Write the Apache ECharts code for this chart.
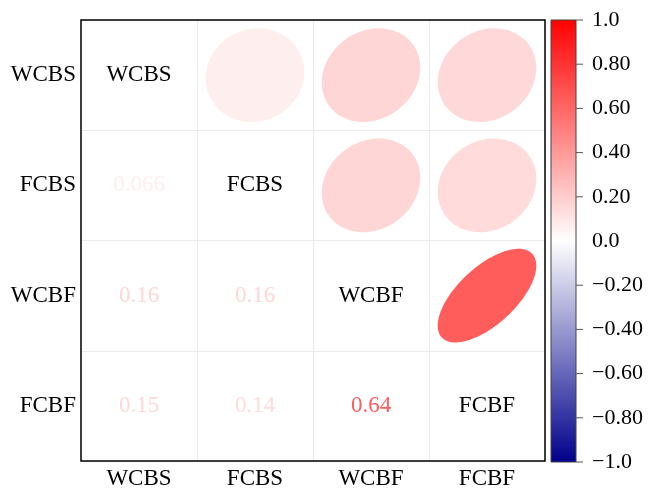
<!DOCTYPE html>
<html>
<head>
<meta charset="utf-8">
<script src="https://cdn.jsdelivr.net/npm/echarts@6/dist/echarts.min.js"></script>
<style>
  html, body { margin: 0; padding: 0; background: #ffffff; }
  #chart { width: 649px; height: 490px; }
</style>
</head>
<body>
<div id="chart"></div>
<script>
// Variables of the correlation matrix (row/column order)
const variables = ['WCBS', 'FCBS', 'WCBF', 'FCBF'];

// Correlation matrix rows
const rowWCBS = [1, 0.066, 0.16, 0.15];
const rowFCBS = [0.066, 1, 0.16, 0.14];
const rowWCBF = [0.16, 0.16, 1, 0.64];
const rowFCBF = [0.15, 0.14, 0.64, 1];
const corrMatrix = [rowWCBS, rowFCBS, rowWCBF, rowFCBF];

// Colour bar scale
const barMin = -1;
const barMax = 1;
const barStep = 0.2;
const barTickValues = [1, 0.8, 0.6, 0.4, 0.2, -0.2, -0.4, -0.6, -0.8, -1];
const rampColors = ['#00008B', '#FFFFFF', '#FF0000'];

const serif = 'Liberation Serif';

function hexToRgb(h) {
  return [parseInt(h.slice(1, 3), 16), parseInt(h.slice(3, 5), 16), parseInt(h.slice(5, 7), 16)];
}
// Diverging blue-white-red ramp on [-1, 1]
function rampColor(v) {
  const lo = v < 0 ? hexToRgb(rampColors[0]) : hexToRgb(rampColors[1]);
  const hi = v < 0 ? hexToRgb(rampColors[1]) : hexToRgb(rampColors[2]);
  const t = v < 0 ? v + 1 : v;
  const c = lo.map((a, i) => Math.round(a + (hi[i] - a) * t));
  return 'rgb(' + c.join(',') + ')';
}

// Build per-cell data: upper triangle ellipses, diagonal names, lower triangle values
const ellipseData = [];
const textData = [];
for (let i = 0; i < variables.length; i++) {
  for (let j = 0; j < variables.length; j++) {
    const r = corrMatrix[i][j];
    if (j > i) ellipseData.push([j, i, r]);
    else if (j === i) textData.push({ value: [j, i], name: variables[i], color: '#000000' });
    else textData.push({ value: [j, i], name: String(r), color: rampColor(r) });
  }
}

function barLabel(v) {
  const a = Math.abs(v);
  const s = (a < 1e-9) ? '0.0' : (Math.abs(a - 1) < 1e-9 ? '1.0' : a.toFixed(2));
  return (v < -1e-9 ? '\u2212' : '') + s;
}

const chart = echarts.init(document.getElementById('chart'), null, { renderer: 'canvas' });

chart.setOption({
  backgroundColor: '#ffffff',
  animation: false,
  grid: [
    { left: 81, top: 20, width: 464, height: 442, show: false },
    { left: 551, top: 20, width: 25, height: 442, show: false }
  ],
  xAxis: [
    {
      type: 'category', gridIndex: 0, data: variables, position: 'bottom',
      axisLine: { show: false }, axisTick: { show: false },
      axisLabel: { fontFamily: serif, fontSize: 23, color: '#000000', margin: 6 },
      splitLine: { show: true, lineStyle: { color: '#EBEBEB', width: 1 } }
    },
    { type: 'value', gridIndex: 1, min: 0, max: 1, show: false }
  ],
  yAxis: [
    {
      type: 'category', gridIndex: 0, data: variables, inverse: true,
      axisLine: { show: false }, axisTick: { show: false },
      axisLabel: { fontFamily: serif, fontSize: 23, color: '#000000', margin: 5 },
      splitLine: { show: true, lineStyle: { color: '#EBEBEB', width: 1 } }
    },
    {
      type: 'value', gridIndex: 1, min: barMin, max: barMax, interval: barStep, position: 'right',
      axisLine: { show: false }, axisTick: { show: false }, splitLine: { show: false },
      axisLabel: { fontFamily: serif, fontSize: 22, color: '#000000', margin: 16, formatter: barLabel }
    }
  ],
  series: [
    {
      // correlation ellipses (upper triangle)
      type: 'custom', xAxisIndex: 0, yAxisIndex: 0,
      data: ellipseData,
      encode: { x: 0, y: 1 },
      renderItem: function (params, api) {
        const c = api.coord([api.value(0), api.value(1)]);
        const size = api.size([1, 1]);
        const r = api.value(2);
        const half = Math.acos(r) / 2;
        const pts = [];
        const n = 99;
        for (let k = 0; k < n; k++) {
          const t = 2 * Math.PI * k / (n - 1);
          const ex = 0.85 * Math.cos(t + half) / 2;
          const ey = 0.85 * Math.cos(t - half) / 2;
          pts.push([c[0] + ex * size[0], c[1] - ey * size[1]]);
        }
        return { type: 'polygon', shape: { points: pts }, style: { fill: rampColor(r) } };
      }
    },
    {
      // diagonal names and lower-triangle coefficients
      type: 'custom', xAxisIndex: 0, yAxisIndex: 0,
      data: textData,
      encode: { x: 0, y: 1 },
      renderItem: function (params, api) {
        const c = api.coord([api.value(0), api.value(1)]);
        const item = textData[params.dataIndex];
        return {
          type: 'text',
          style: {
            x: c[0], y: c[1], text: item.name, fill: item.color,
            font: '23px "' + serif + '"', textAlign: 'center', textVerticalAlign: 'middle'
          }
        };
      }
    },
    {
      // frame around the matrix, drawn above the grid lines
      type: 'custom', xAxisIndex: 0, yAxisIndex: 0, z: 10,
      data: [[0, 0]],
      encode: { x: 0, y: 1 },
      renderItem: function (params) {
        const cs = params.coordSys;
        return {
          type: 'rect',
          shape: { x: cs.x, y: cs.y, width: cs.width, height: cs.height },
          style: { fill: 'none', stroke: '#000000', lineWidth: 1.5 }
        };
      }
    },
    {
      // colour bar gradient
      type: 'custom', xAxisIndex: 1, yAxisIndex: 1,
      data: [[0, barMin, 1, barMax]],
      encode: { x: [0, 2], y: [1, 3] },
      renderItem: function (params, api) {
        const p0 = api.coord([api.value(0), api.value(3)]);
        const p1 = api.coord([api.value(2), api.value(1)]);
        return {
          type: 'rect',
          shape: { x: p0[0], y: p0[1], width: p1[0] - p0[0], height: p1[1] - p0[1] },
          style: {
            stroke: '#444444', lineWidth: 1,
            fill: new echarts.graphic.LinearGradient(0, 0, 0, 1, [
              { offset: 0, color: rampColors[2] },
              { offset: 0.5, color: rampColors[1] },
              { offset: 1, color: rampColors[0] }
            ])
          }
        };
      }
    },
    {
      // colour bar tick marks
      type: 'custom', xAxisIndex: 1, yAxisIndex: 1,
      data: barTickValues.map(v => [1, v]),
      encode: { x: 0, y: 1 },
      renderItem: function (params, api) {
        const p = api.coord([api.value(0), api.value(1)]);
        return {
          type: 'line',
          shape: { x1: p[0], y1: p[1], x2: p[0] + 7, y2: p[1] },
          style: { stroke: '#555555', lineWidth: 1 }
        };
      }
    }
  ]
});
</script>
</body>
</html>
